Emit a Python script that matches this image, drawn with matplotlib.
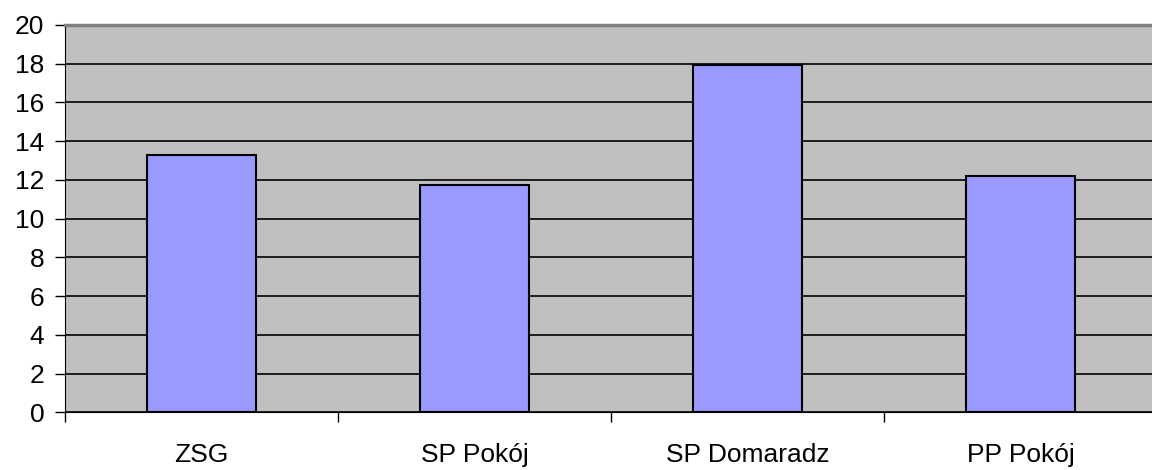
import matplotlib.pyplot as plt
import numpy as np

plt.rcParams['font.family'] = ['Liberation Sans', 'DejaVu Sans']

categories = ['ZSG', 'SP Pokój', 'SP Domaradz', 'PP Pokój']
values = [13.28, 11.73, 17.93, 12.2]
yticks = list(range(0, 21, 2))

fig = plt.figure(figsize=(11.52, 4.70), dpi=100)
ax = fig.add_axes([65 / 1152, 57.7 / 470, 1092 / 1152, 387.3 / 470])
ax.set_facecolor('#C0C0C0')

x = np.arange(len(categories))
ax.bar(x, values, width=0.4, color='#9999FF', edgecolor='black', linewidth=1.5, zorder=3)

ax.set_xlim(-0.5, len(categories) - 0.5)
ax.set_ylim(0, 20)
ax.set_yticks(yticks)
ax.yaxis.grid(True, color='black', linewidth=1.2, zorder=1)
ax.set_axisbelow(True)

ax.set_xticks(x)
ax.set_xticklabels(categories)
ax.set_xticks(np.arange(len(categories) + 1) - 0.5, minor=True)
ax.tick_params(axis='x', which='major', length=0, pad=22, labelsize=19)
ax.tick_params(axis='x', which='minor', length=7, width=1, color='black')
ax.tick_params(axis='y', length=7, width=1, pad=8, labelsize=19)

ax.spines['top'].set_color('#808080')
ax.spines['top'].set_linewidth(2.5)
ax.spines['right'].set_visible(False)
ax.spines['left'].set_color('black')
ax.spines['bottom'].set_color('black')

fig.savefig('out.png', dpi=100)
